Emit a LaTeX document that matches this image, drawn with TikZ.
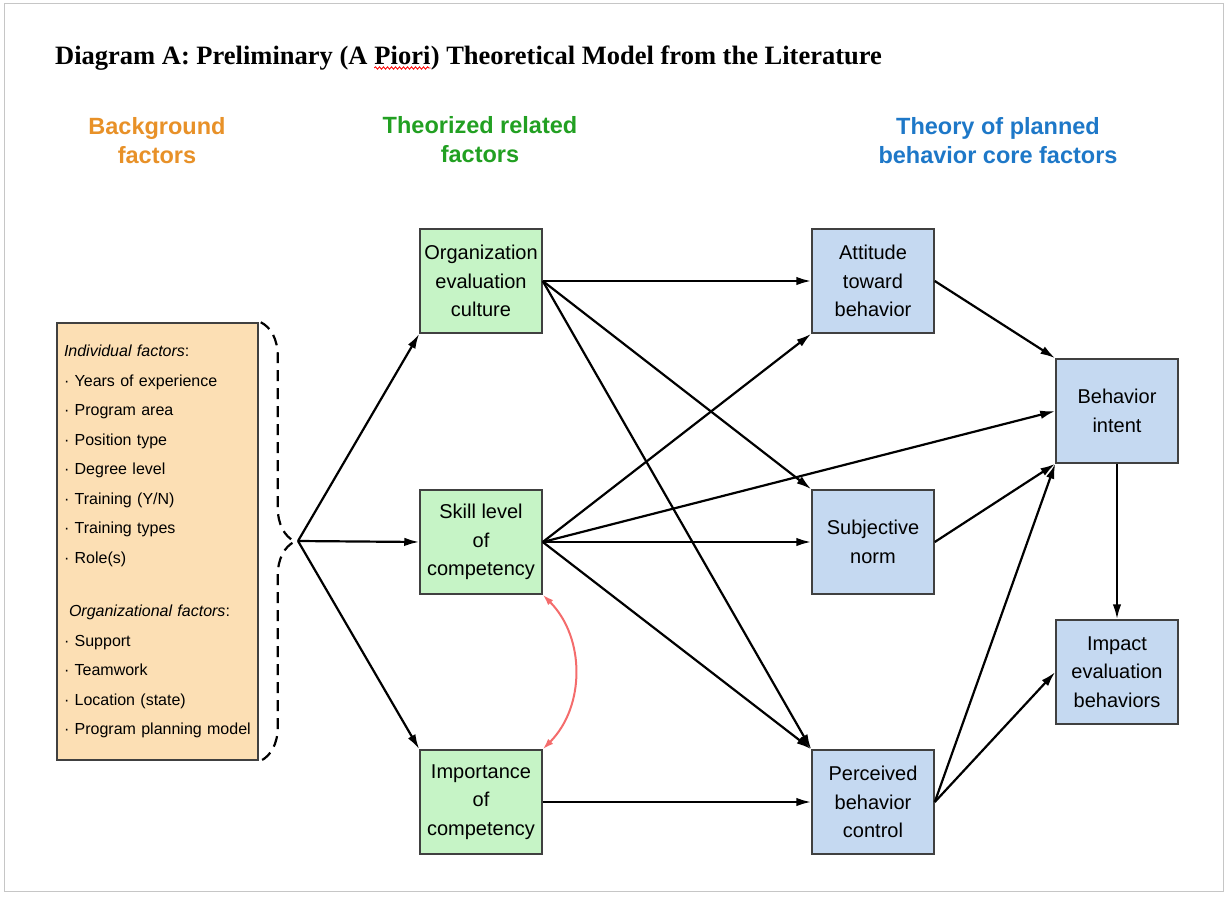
\documentclass[tikz,border=0pt]{standalone}
\usepackage{fontspec}
\setmainfont{Liberation Serif}
\setsansfont{Liberation Sans}
\usetikzlibrary{arrows.meta, positioning, decorations.pathreplacing, decorations.pathmorphing}
\definecolor{bgorange}{RGB}{252, 223, 180}
\definecolor{relgreen}{RGB}{198, 244, 198}
\definecolor{tpbblue}{RGB}{197, 217, 241}
\definecolor{hdorange}{RGB}{232, 145, 40}
\definecolor{hdgreen}{RGB}{34, 160, 34}
\definecolor{hdblue}{RGB}{30, 120, 200}
\definecolor{boxline}{RGB}{64, 64, 64}
\definecolor{linkred}{RGB}{244, 108, 108}

\begin{document}
\begin{tikzpicture}[x=1pt, y=-1pt,
  factor/.style={draw=boxline, line width=1.5pt, minimum width=122pt, minimum height=104pt, inner sep=2pt, align=center, font=\sffamily\fontsize{20}{28.5}\selectfont},
  relbox/.style={factor, fill=relgreen},
  tpbbox/.style={factor, fill=tpbblue},
  header/.style={align=center, font=\sffamily\bfseries\fontsize{23.5}{29}\selectfont},
  titlefont/.style={anchor=base west, inner sep=0pt, font=\bfseries\fontsize{26.5}{30}\selectfont},
  link/.style={line width=2.2pt, -{Latex[length=15pt, width=8.5pt]}}]

  % page
  \fill[white] (0,0) rectangle (1231,899);
  \useasboundingbox (0,0) rectangle (1231,899);
  \draw[gray!45, line width=1pt] (4,4) rectangle (1223,891);

  % title
  \node[titlefont] (titleA) at (55,64) {Diagram A: Preliminary (A};
  \node[titlefont] (titleB) at ([xshift=6.6pt]titleA.base east) {Piori};
  \node[titlefont] (titleC) at (titleB.base east) {) Theoretical Model from the Literature};
  \draw[red, line width=0.8pt, decorate, decoration={snake, amplitude=1.2pt, segment length=4pt}]
    ([yshift=-4pt]titleB.base west) -- ([yshift=-4pt]titleB.base east);

  % column headers
  \node[header, text=hdorange] (bghead) at (157,141) {Background\\factors};
  \node[header, text=hdgreen] (relhead) at (480,140) {Theorized related\\factors};
  \node[header, text=hdblue] (tpbhead) at (998,141) {Theory of planned\\behavior core factors};

  % background factors
  \node[draw=boxline, line width=1.5pt, fill=bgorange, minimum width=201pt, minimum height=437pt,
        text width=187pt, inner xsep=7pt, align=left, font=\sffamily\fontsize{16}{29.5}\selectfont] (bgbox) at (157.5,541.5) {
    \textit{Individual factors}:\\
    · Years of experience\\
    · Program area\\
    · Position type\\
    · Degree level\\
    · Training (Y/N)\\
    · Training types\\
    · Role(s)\\[24pt]
    \hspace*{5pt}\textit{Organizational factors}:\\
    · Support\\
    · Teamwork\\
    · Location (state)\\
    · Program planning model
  };
  \draw[dashed, dash pattern=on 11pt off 7pt, line width=2.2pt, decorate, decoration={brace, amplitude=34pt}]
    ([xshift=2pt]bgbox.north east) -- ([xshift=2pt]bgbox.south east);
  \coordinate (bracetip) at (298,541);

  % theorized related factors
  \node[relbox] (orgcult) at (481,281) {Organization\\evaluation\\culture};
  \node[relbox] (skill) at (481,542) {Skill level\\of\\competency};
  \node[relbox] (importance) at (481,802) {Importance\\of\\competency};

  % theory of planned behavior
  \node[tpbbox] (attitude) at (873,281) {Attitude\\toward\\behavior};
  \node[tpbbox] (subjnorm) at (873,542) {Subjective\\norm};
  \node[tpbbox] (control) at (873,802) {Perceived\\behavior\\control};
  \node[tpbbox] (intent) at (1117,411) {Behavior\\intent};
  \node[tpbbox] (impact) at (1117,672) {Impact\\evaluation\\behaviors};

  % links
  \draw[link] (bracetip) -- (orgcult.south west);
  \draw[link] (bracetip) -- (skill.west);
  \draw[link] (bracetip) -- (importance.north west);
  \draw[link] (orgcult.east) -- (attitude.west);
  \draw[link] (orgcult.east) -- (subjnorm.north west);
  \draw[link] (orgcult.east) -- (control.north west);
  \draw[link] (skill.east) -- (attitude.south west);
  \draw[link] (skill.east) -- (intent.west);
  \draw[link] (skill.east) -- (subjnorm.west);
  \draw[link] (skill.east) -- (control.north west);
  \draw[link] (importance.east) -- (control.west);
  \draw[link] (attitude.east) -- (intent.north west);
  \draw[link] (subjnorm.east) -- (intent.south west);
  \draw[link] (control.east) -- (intent.south west);
  \draw[link] (control.east) -- (impact.west);
  \draw[link] (intent.south) -- (impact.north);
  \draw[linkred, line width=2pt, {Latex[length=11pt, width=7pt]}-{Latex[length=11pt, width=7pt]}]
    (skill.south east) to[bend left=45] (importance.north east);
\end{tikzpicture}
\end{document}
